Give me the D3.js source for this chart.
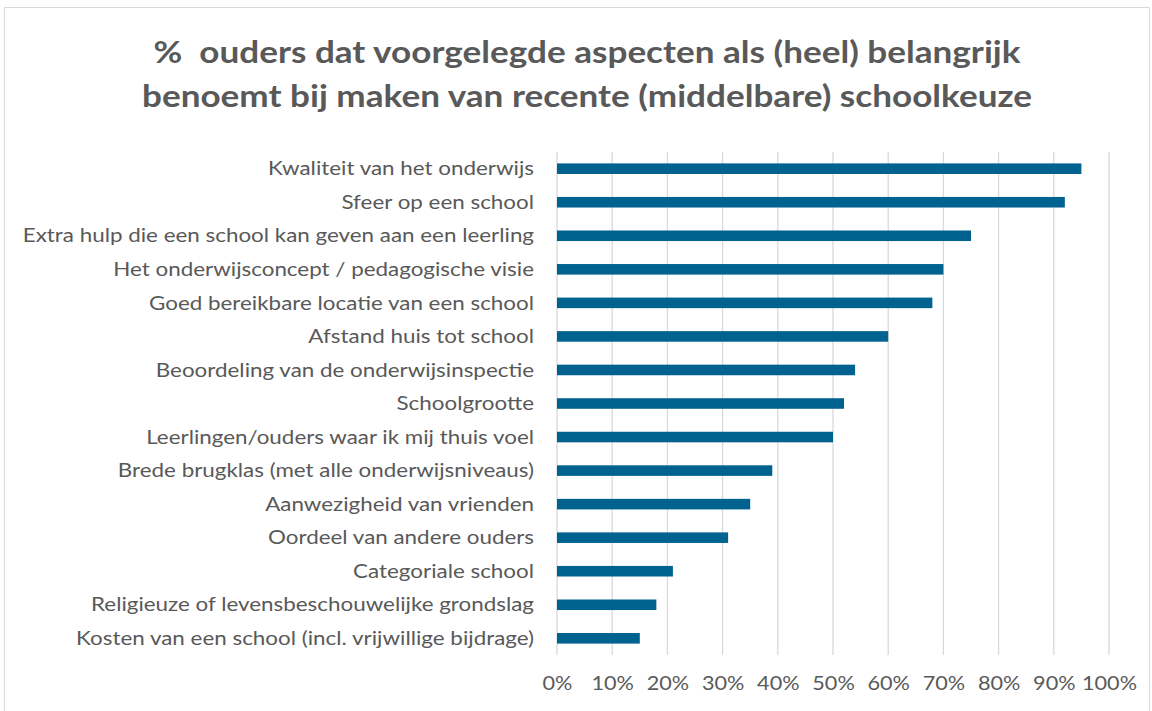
<!DOCTYPE html>
<html>
<head>
<meta charset="utf-8">
<script src="https://cdn.jsdelivr.net/npm/d3@7"></script>
<style>
  body { margin: 0; background: #fff; }
  svg { display: block; }
</style>
</head>
<body>
<svg id="chart"></svg>
<script>
// aspects, top to bottom
var categories = [
    'Kwaliteit van het onderwijs',
    'Sfeer op een school',
    'Extra hulp die een school kan geven aan een leerling',
    'Het onderwijsconcept / pedagogische visie',
    'Goed bereikbare locatie van een school ',
    'Afstand huis tot school',
    'Beoordeling van de onderwijsinspectie',
    'Schoolgrootte',
    'Leerlingen/ouders waar ik mij thuis voel',
    'Brede brugklas (met alle onderwijsniveaus)',
    'Aanwezigheid van vrienden',
    'Oordeel van andere ouders',
    'Categoriale school ',
    'Religieuze of levensbeschouwelijke grondslag',
    'Kosten van een school (incl. vrijwillige bijdrage)'
];
var values = [95, 92, 75, 70, 68, 60, 54, 52, 50, 39, 35, 31, 21, 18, 15];
var ticks = [0, 10, 20, 30, 40, 50, 60, 70, 80, 90, 100];
var titleLines = [
    '%  ouders dat voorgelegde aspecten als (heel) belangrijk',
    'benoemt bij maken van recente (middelbare) schoolkeuze'
];

var width = 1152,
    height = 711,
    textColor = '#595959',
    barFill = '#00628f',
    gridStroke = '#d9d9d9',
    font = 'Lato, "Open Sans", sans-serif',
    plotLeft = 557,
    plotRight = 1109,
    plotTop = 152,
    plotBottom = 655;

var svg = d3.select('#chart')
    .attr('width', width)
    .attr('height', height);

// chart frame
svg.append('rect')
    .attr('x', 4.5)
    .attr('y', 7.5)
    .attr('width', width - 7)
    .attr('height', height)
    .attr('fill', '#fff')
    .attr('stroke', '#d9d9d9');

var x = d3.scaleLinear()
    .domain([0, 100])
    .range([plotLeft, plotRight]);

var y = d3.scaleBand()
    .domain(categories)
    .range([plotTop, plotBottom])
    .paddingInner(0.685)
    .paddingOuter(0.34);

// widen text horizontally (reference font runs wider than Lato)
function widen(sel, k) {
    sel.each(function() {
        var len = this.getComputedTextLength();
        d3.select(this)
            .attr('textLength', len * k)
            .attr('lengthAdjust', 'spacingAndGlyphs');
    });
}

// vertical gridlines
svg.append('g')
    .selectAll('line')
    .data(ticks)
    .enter().append('line')
    .attr('x1', function(d) { return x(d); })
    .attr('x2', function(d) { return x(d); })
    .attr('y1', plotTop)
    .attr('y2', plotBottom)
    .attr('stroke', gridStroke)
    .attr('stroke-width', 1.3);

svg.append('g')
    .selectAll('rect')
    .data(values)
    .enter().append('rect')
    .attr('x', x(0))
    .attr('y', function(d, i) { return y(categories[i]); })
    .attr('width', function(d) { return x(d) - x(0); })
    .attr('height', y.bandwidth())
    .attr('fill', barFill);

// category labels
var yAxis = d3.axisLeft(y).tickSize(0).tickPadding(23);
var gY = svg.append('g')
    .attr('transform', 'translate(' + plotLeft + ',0)')
    .call(yAxis);
gY.select('.domain').remove();
gY.selectAll('text')
    .attr('fill', textColor)
    .style('font-family', font)
    .style('font-size', '18.5px')
    .attr('dy', '0.36em')
    .call(widen, 1.21);

// percentage labels
var xAxis = d3.axisBottom(x)
    .tickValues(ticks)
    .tickSize(0)
    .tickPadding(22)
    .tickFormat(function(d) { return d + '%'; });
var gX = svg.append('g')
    .attr('transform', 'translate(0,' + plotBottom + ')')
    .call(xAxis);
gX.select('.domain').remove();
gX.selectAll('text')
    .attr('fill', textColor)
    .style('font-family', font)
    .style('font-size', '18.5px')
    .call(widen, 1.17);

svg.append('g')
    .selectAll('text')
    .data(titleLines)
    .enter().append('text')
    .attr('x', 587)
    .attr('y', function(d, i) { return 63 + i * 44; })
    .attr('text-anchor', 'middle')
    .attr('fill', textColor)
    .style('font-family', font)
    .style('font-weight', 'bold')
    .style('font-size', '30px')
    .style('white-space', 'pre')
    .text(function(d) { return d; })
    .call(widen, 1.17);
</script>
</body>
</html>
